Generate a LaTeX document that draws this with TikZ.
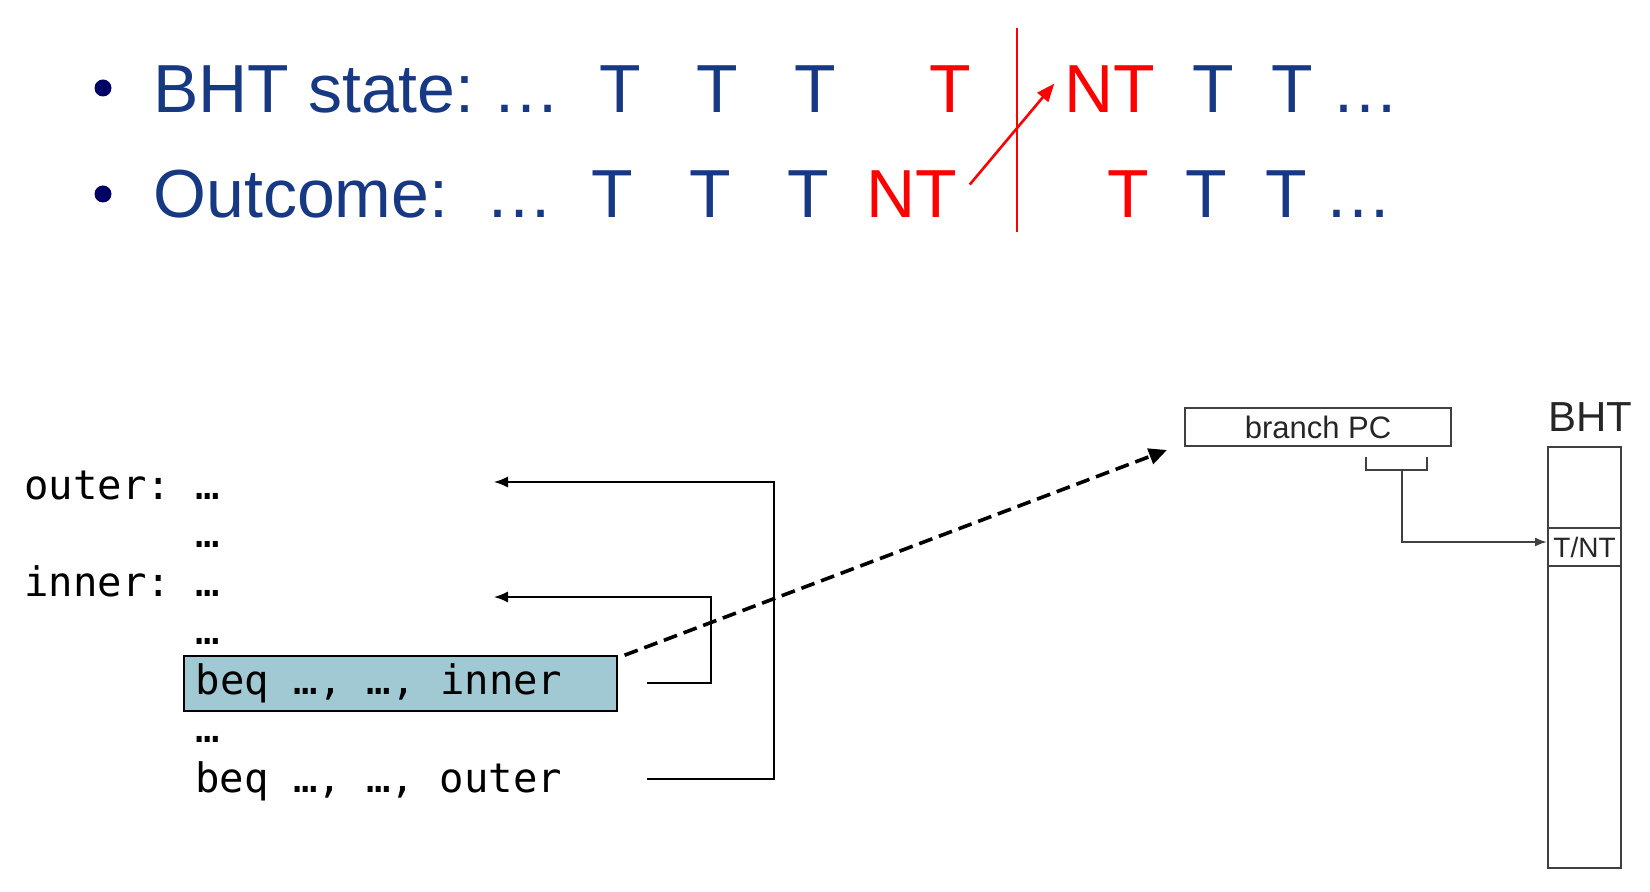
\documentclass[tikz,border=0pt]{standalone}
\usepackage{fontspec}
\setmainfont{Liberation Sans}
\newfontfamily\asmfont{DejaVu Sans Mono}
\usetikzlibrary{arrows.meta}
\definecolor{slideblue}{RGB}{23,56,131}
\definecolor{bulletblue}{RGB}{0,0,100}
\definecolor{hiliteblue}{RGB}{161,201,211}
\definecolor{hwgray}{RGB}{64,64,64}

\begin{document}
\begin{tikzpicture}[x=0.5pt,y=0.5pt,
  slide/.style={inner sep=0pt,anchor=base,font=\fontsize{34}{40}\selectfont},
  hit/.style={slide,text=slideblue},
  miss/.style={slide,text=red},
  bulletdot/.style={circle,fill=bulletblue,inner sep=0pt,minimum size=8.5pt},
  asm/.style={inner sep=0pt,anchor=base west,
    font=\asmfont\fontsize{20.3}{24}\selectfont\frenchspacing},
  jump/.style={-{Latex[length=7pt,width=5.5pt]},line width=0.7pt},
  hw/.style={draw=hwgray,line width=1pt,inner sep=0pt,text=black!85},
  wire/.style={-{Latex[length=6pt,width=4.5pt]},draw=hwgray,line width=1pt},
  lookup/.style={-{Triangle[length=9pt,width=8pt]},line width=1.8pt,
    dash pattern=on 7pt off 3.5pt},
  flip/.style={-{Triangle[length=9pt,width=7pt]},red,line width=1.3pt}]
\useasboundingbox (0,0) rectangle (1650,-892);
% slide bullets
\node[bulletdot] (b1) at (103,-88) {};
\node[bulletdot] (b2) at (103,-194) {};
\node[hit,anchor=base west] (state) at (153,-113) {BHT state:};
\node[hit] (s0) at (526,-113) {…};
\node[hit] (s1) at (620,-113) {T};
\node[hit] (s2) at (717,-113) {T};
\node[hit] (s3) at (815,-113) {T};
\node[miss] (s4) at (950,-113) {T};
\node[miss] (s5) at (1110,-113) {NT};
\node[hit] (s6) at (1213,-113) {T};
\node[hit] (s7) at (1292,-113) {T};
\node[hit] (s8) at (1365,-113) {…};
\node[hit,anchor=base west] (outcome) at (153,-218) {Outcome:};
\node[hit] (o0) at (519,-218) {…};
\node[hit] (o1) at (612,-218) {T};
\node[hit] (o2) at (710,-218) {T};
\node[hit] (o3) at (808,-218) {T};
\node[miss] (o4) at (912,-218) {NT};
\node[miss] (o5) at (1128,-218) {T};
\node[hit] (o6) at (1206,-218) {T};
\node[hit] (o7) at (1286,-218) {T};
\node[hit] (o8) at (1358,-218) {…};
\draw[red,line width=1pt] (1017,-28) -- (1017,-232);
\draw[flip] ([shift={(12,10)}]o4.east) -- ([shift={(-10,6)}]s5.west);
% loop code
\node[asm] (l1) at (24,-500) {outer: …};
\node[asm] (l2) at (195,-548) {…};
\node[asm] (l3) at (24,-597) {inner: …};
\node[asm] (l4) at (195,-645) {…};
\node[asm,draw,fill=hiliteblue,line width=0.8pt,inner xsep=6pt,
  inner ysep=2.5pt,text height=17pt,text depth=5.5pt]
  (binner) at (183,-695) {\makebox[204.5pt][l]{beq …, …, inner}};
\node[asm] (l6) at (195,-742) {…};
\node[asm] (bouter) at (195,-792) {beq …, …, outer};
\coordinate (osrc) at (647,-779);
\coordinate (odst) at (494,-482);
\coordinate (isrc) at (647,-683);
\coordinate (idst) at (494,-597);
\draw[jump] (osrc) -- ++(127,0) |- (odst);
\draw[jump] (isrc) -- ++(64,0) |- (idst);
% predictor hardware
\node[hw,minimum width=133pt,minimum height=19pt,
  font=\fontsize{15.5}{18}\selectfont] (pc) at (1318,-427) {branch PC};
\node[hw,minimum width=36.5pt,minimum height=210.5pt,anchor=north]
  (bht) at (1584.5,-446) {};
\node[hw,minimum width=36.5pt,minimum height=19pt,
  font=\fontsize{14}{16}\selectfont] (tnt) at (1584.5,-547) {T/NT};
\node[anchor=base,inner sep=0pt,text=black!85,
  font=\fontsize{21}{24}\selectfont] (bhtlabel) at (1590,-432) {BHT};
\draw[hwgray,line width=1pt] (1366,-457) |- (1427,-470) -- (1427,-457);
\coordinate (idx) at (1402,-470);
\draw[wire] (idx) |- ([yshift=2.5pt]tnt.west);
\draw[lookup] ([xshift=3.5pt]binner.north east)
  -- ([shift={(-17,-3)}]pc.south west);
\end{tikzpicture}
\end{document}
